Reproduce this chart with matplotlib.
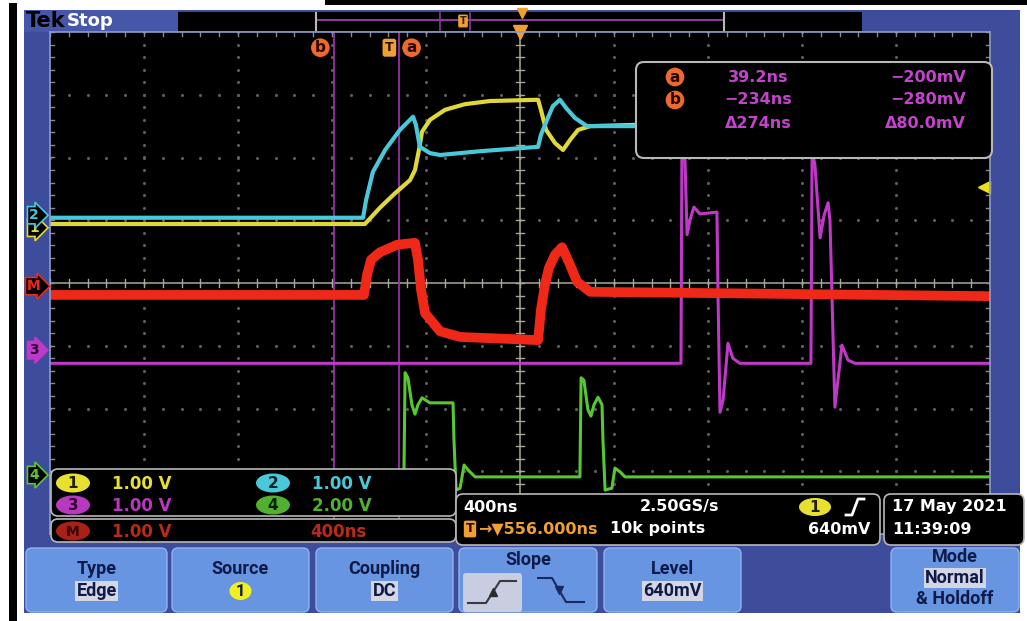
import numpy as np
import matplotlib
matplotlib.use("Agg")
import matplotlib.pyplot as plt
from matplotlib.patches import Rectangle, FancyBboxPatch, Ellipse

# timebase: 400 ns/div, screen centre sits 556 ns after the trigger
ns_per_div = 400
t_center = 556
t_left = t_center - 5 * ns_per_div
t_right = t_center + 5 * ns_per_div

# traces: time in ns (0 = trigger), amplitude in screen divisions
ch1_t = [-1444, -104, -40, 24, 88, 109, 126, 139, 173, 237, 322, 428, 633, 645, 667, 705, 739, 769, 803, 854, 1050, 2556]
ch1_y = [0.94, 0.94, 1.20, 1.43, 1.64, 1.80, 2.12, 2.41, 2.60, 2.76, 2.85, 2.90, 2.92, 2.76, 2.44, 2.23, 2.12, 2.28, 2.44, 2.50, 2.52, 2.52]

ch2_t = [-1444, -112, -99, -70, -18, 45, 101, 113, 130, 173, 216, 386, 633, 645, 671, 696, 726, 752, 790, 841, 896, 2556]
ch2_y = [1.04, 1.04, 1.32, 1.77, 2.12, 2.44, 2.65, 2.52, 2.17, 2.07, 2.04, 2.10, 2.17, 2.36, 2.60, 2.82, 2.92, 2.79, 2.63, 2.50, 2.50, 2.50]

math_t = [-1444, -108, -95, -78, -40, 33, 109, 122, 135, 152, 216, 301, 633, 645, 662, 679, 705, 735, 769, 799, 854, 2556]
math_y = [-0.19, -0.19, 0.13, 0.37, 0.49, 0.61, 0.64, 0.37, -0.11, -0.48, -0.77, -0.86, -0.91, -0.43, -0.03, 0.24, 0.45, 0.57, 0.29, 0.02, -0.14, -0.21]

ch3_t = [-1444, 1241, 1245, 1258, 1267, 1279, 1296, 1322, 1394, 1399, 1407, 1420, 1441, 1462, 1492,
         1794, 1799, 1811, 1833, 1850, 1867, 1875, 1884, 1896, 1909, 1926, 1952, 1982, 2556]
ch3_y = [-1.28, -1.28, 2.12, 1.96, 0.77, 1.00, 1.21, 1.10, 1.13, -0.27, -2.06, -1.87, -0.96, -1.20, -1.28,
         -1.28, 2.12, 1.88, 0.72, 1.08, 1.28, 1.00, -0.27, -1.98, -1.55, -0.99, -1.23, -1.28, -1.28]

ch4_t = [-1444, 62, 67, 79, 96, 109, 122, 139, 173, 271, 275, 284, 301, 318, 335, 365,
         811, 816, 828, 845, 858, 871, 888, 905, 909, 918, 947, 960, 982, 1003, 2556]
ch4_y = [-3.09, -3.09, -1.43, -1.51, -1.94, -2.09, -1.94, -1.83, -1.91, -1.91, -2.50, -3.30, -3.27, -2.90, -2.98, -3.09,
         -3.09, -1.51, -1.55, -2.02, -2.12, -1.94, -1.82, -1.94, -2.50, -3.30, -3.27, -2.95, -3.01, -3.09, -3.09]

# cursors, trigger level and channel ground markers
cursor_a = 39.2
cursor_b = -234
trig_level = 1.53
markers = [("1", 0.88, "#E0D838"), ("2", 1.08, "#48C8D8"), ("M", -0.05, "#F02818"),
           ("3", -1.07, "#C038C8"), ("4", -3.06, "#58C830")]

# readout texts
meas_rows = [("a", "39.2ns", "\u2212200mV"), ("b", "\u2212234ns", "\u2212280mV"), ("", "\u0394274ns", "\u039480.0mV")]
ch_scales = ["1.00 V", "1.00 V", "1.00 V", "2.00 V"]
math_scale, math_time = "1.00 V", "400ns"
horiz = ["400ns", "2.50GS/s", "\u2192\u25bc556.000ns", "10k points", "640mV"]
date_txt = ["17 May 2021", "11:39:09"]
buttons = [("Type", "Edge"), ("Source", "1"), ("Coupling", "DC"), ("Slope", ""), ("Level", "640mV"), ("Mode", "Normal")]

W, H = 1027, 621
FRAME = "#3E4C9C"
BTN = "#6795E2"
MEAS = "#C443CC"
ORANGE = "#EC6A2C"
BOLD = dict(family="DejaVu Sans", fontweight="bold")
NARROW = dict(family="Roboto", fontweight="bold")

fig = plt.figure(figsize=(W / 100, H / 100), dpi=100, facecolor="white")


def px_axes(z):
    a = fig.add_axes([0, 0, 1, 1], zorder=z)
    a.set_xlim(0, W)
    a.set_ylim(H, 0)
    a.axis("off")
    return a


def rect(a, x0, y0, x1, y1, fc):
    a.add_patch(Rectangle((x0, y0), x1 - x0, y1 - y0, fc=fc, ec="none"))


def rbox(a, x0, y0, x1, y1, fc, ec, r=6, lw=1.2):
    a.add_patch(FancyBboxPatch((x0, y0), x1 - x0, y1 - y0,
                               boxstyle=f"round,pad=0,rounding_size={r}", fc=fc, ec=ec, lw=lw))


# ---- frame -----------------------------------------------------------
bg = px_axes(0)
rect(bg, 9, 3, 17, H, "black")
rect(bg, 325, 0, W, 5, "black")
rect(bg, 24, 10, 1020, 613, FRAME)
rect(bg, 24, 10, 178, 32, "#4656A8")
rect(bg, 178, 12, 862, 31, "black")
bg.plot([318, 722], [20, 20], color="#8A3A9A", lw=1.5)
for xx in (440, 470):
    bg.plot([xx, xx], [13, 30], color="#8A3A9A", lw=1.2)
for xx in (316, 724):
    bg.plot([xx, xx], [13, 30], color="#B8B8B8", lw=1.5)
bg.text(463, 21, "T", ha="center", va="center", fontsize=7, color="#3A1A00",
        bbox=dict(boxstyle="round,pad=0.15", fc="#F0A030", ec="none"), **BOLD)
bg.plot(522, 13, marker="v", ms=7, color="#F0A030")
bg.text(26, 21, "Tek", ha="left", va="center", fontsize=15, color="black", **BOLD)
bg.text(67, 21, "Stop", ha="left", va="center", fontsize=13, color="white", **BOLD)

# ---- graticule -------------------------------------------------------
ax = fig.add_axes([50 / W, (H - 534) / H, 940 / W, 502 / H], zorder=1)
ax.set_facecolor("black")
ax.set_xlim(t_left, t_right)
ax.set_ylim(-4, 4)
ax.set_xticks([])
ax.set_yticks([])
for s in ax.spines.values():
    s.set_color("#8C9CCC")
    s.set_linewidth(1.2)

minor_t = np.arange(t_left, t_right + 1, ns_per_div / 5)
minor_y = np.arange(-4, 4.01, 0.2)
for k in range(1, 10):
    if k != 5:
        xv = t_left + k * ns_per_div
        ax.plot([xv] * len(minor_y), minor_y, ls="none", marker="o", ms=1.2, color="#5E5E5E")
for yv in (-3, -2, -1, 1, 2, 3):
    ax.plot(minor_t, [yv] * len(minor_t), ls="none", marker="o", ms=1.2, color="#5E5E5E")

ax.axvline(t_center, color="#A8A898", lw=1.1)
ax.axhline(0, color="#A8A898", lw=1.1)
tick_t = 17
tick_y = 0.065
for yv in minor_y:
    ax.plot([t_center - tick_t, t_center + tick_t], [yv, yv], color="#A8A898", lw=1)
    ax.plot([t_left, t_left + tick_t], [yv, yv], color="#8A8A8A", lw=1)
    ax.plot([t_right - tick_t, t_right], [yv, yv], color="#8A8A8A", lw=1)
for tv in minor_t:
    ax.plot([tv, tv], [-tick_y, tick_y], color="#A8A898", lw=1)
    ax.plot([tv, tv], [4 - tick_y, 4], color="#8A8A8A", lw=1)
    ax.plot([tv, tv], [-4, -4 + tick_y], color="#8A8A8A", lw=1)

# cursors
ax.axvline(cursor_b, color="#9830A8", lw=1.3)
ax.axvline(cursor_a, color="#9830A8", lw=1.3)

# waveforms
ax.plot(ch4_t, ch4_y, color="#58C830", lw=2.2)
ax.plot(ch3_t, ch3_y, color="#C038C8", lw=2.2)
ax.plot(math_t, math_y, color="#F02818", lw=7, solid_joinstyle="round")
ax.plot(ch1_t, ch1_y, color="#E0D838", lw=3)
ax.plot(ch2_t, ch2_y, color="#48C8D8", lw=3)

# cursor / trigger labels along the top
lab_y = 3.75
for txt, tv, dx in (("b", cursor_b, -14), ("a", cursor_a, 13)):
    ax.annotate(txt, xy=(tv, lab_y), xytext=(dx * 0.72, 0), textcoords="offset points",
                ha="center", va="center", fontsize=11, color="#2A0800",
                bbox=dict(boxstyle="circle,pad=0.12", fc=ORANGE, ec="none"), **BOLD)
ax.annotate("T", xy=(0, lab_y), ha="center", va="center", fontsize=9, color="#2A0800",
            bbox=dict(boxstyle="round,pad=0.2", fc="#F0A030", ec="none"), **BOLD)
ax.plot(t_center, 4, marker="v", ms=10, color="#F0A030", clip_on=False)
ax.plot(t_right - 25, trig_level, marker="<", ms=8, color="#E8E020", clip_on=False)
ax.plot([t_right - 30, t_right], [trig_level, trig_level], color="#E8E020", lw=2)

# channel ground markers on the left edge
for name, yv, col in markers:
    dark = col if name == "3" else "black"
    ax.annotate(name, xy=(0, yv), xycoords=("axes fraction", "data"),
                xytext=(-16 * 0.72, 0), textcoords="offset points", ha="center", va="center",
                fontsize=10, color="#2A0830" if name == "3" else col, annotation_clip=False,
                bbox=dict(boxstyle="rarrow,pad=0.12", fc=dark, ec=col, lw=1.2), **BOLD)

# ---- overlay readouts ------------------------------------------------
ov = px_axes(2)

# cursor measurement box
rbox(ov, 636, 62, 992, 158, "black", "#B8B8B8", r=8, lw=1.5)
for i, (lab, tval, vval) in enumerate(meas_rows):
    yy = 77 + i * 23
    if lab:
        ov.text(675, yy, lab, ha="center", va="center", fontsize=11, color="#2A0800",
                bbox=dict(boxstyle="circle,pad=0.12", fc=ORANGE, ec="none"), **BOLD)
    ov.text(758, yy, tval, ha="center", va="center", fontsize=11.5, color=MEAS, **BOLD)
    ov.text(966, yy, vval, ha="right", va="center", fontsize=11.5, color=MEAS, **BOLD)

# channel scale box
rbox(ov, 51, 469, 456, 516, "black", "#B8B8B8", r=7)
rbox(ov, 51, 519, 456, 542, "black", "#B8B8B8", r=7)
ch_cols = ["#E8E030", "#48C8D8", "#B838C0", "#50B030"]
ch_dark = ["#202000", "#002028", "#300030", "#002000"]
for i, sc in enumerate(ch_scales):
    cx = 73 if i % 2 == 0 else 273
    yy = 483 if i < 2 else 505
    ov.add_patch(Ellipse((cx, yy), 34, 19, fc=ch_cols[i], ec="none"))
    ov.text(cx, yy + 1, str(i + 1), ha="center", va="center", fontsize=11, color=ch_dark[i], **BOLD)
    ov.text(cx + 39, yy + 1, sc, ha="left", va="center", fontsize=12, color=ch_cols[i], **BOLD)
ov.add_patch(Ellipse((73, 531), 34, 19, fc="#A82018", ec="none"))
ov.text(73, 532, "M", ha="center", va="center", fontsize=10, color="#3A0000", **BOLD)
ov.text(112, 532, math_scale, ha="left", va="center", fontsize=12, color="#B82A1A", **BOLD)
ov.text(310, 532, math_time, ha="left", va="center", fontsize=12, color="#B82A1A", **BOLD)

# horizontal / trigger box
rbox(ov, 456, 494, 880, 545, "black", "#B8B8B8", r=7)
ov.text(463, 507, horiz[0], ha="left", va="center", fontsize=11.5, color="white", **BOLD)
ov.text(640, 507, horiz[1], ha="left", va="center", fontsize=11.5, color="white", **BOLD)
ov.add_patch(Ellipse((815, 507), 32, 18, fc="#E8E030", ec="none"))
ov.text(815, 508, "1", ha="center", va="center", fontsize=11, color="#202000", **BOLD)
ov.plot([846, 852, 858, 864], [515, 515, 499, 499], color="white", lw=2)
ov.text(470, 529, "T", ha="center", va="center", fontsize=9, color="#2A0800",
        bbox=dict(boxstyle="round,pad=0.15", fc="#F0A030", ec="none"), **BOLD)
ov.text(478, 529, horiz[2], ha="left", va="center", fontsize=11.5, color="#F0A030", **BOLD)
ov.text(610, 529, horiz[3], ha="left", va="center", fontsize=11.5, color="white", **BOLD)
ov.text(870, 529, horiz[4], ha="right", va="center", fontsize=11.5, color="white", **BOLD)

# date box
rbox(ov, 884, 494, 1024, 545, "black", "#B8B8B8", r=7)
ov.text(892, 507, date_txt[0], ha="left", va="center", fontsize=11.5, color="white", **BOLD)
ov.text(892, 529, date_txt[1], ha="left", va="center", fontsize=11.5, color="white", **BOLD)

# ---- soft buttons ----------------------------------------------------
btn_x = [(26, 167), (172, 309), (316, 453), (459, 597), (604, 741), (891, 1019)]
for (x0, x1), (top, val) in zip(btn_x, buttons):
    rbox(ov, x0, 548, x1, 612, BTN, "#8FB2F0", r=6, lw=1)
    cx = (x0 + x1) / 2
    if top == "Slope":
        ov.text(cx, 560, top, ha="center", va="center", fontsize=13, color="#101A48", **NARROW)
        rbox(ov, 463, 573, 522, 612, "#C9CDE2", "none", r=3, lw=0)
        ov.plot([468, 486, 500, 516], [603, 603, 581, 581], color="#3A3A3A", lw=1.5)
        ov.plot(493, 592, marker="^", ms=6, color="#2A2A2A")
        ov.plot([538, 552, 566, 584], [578, 578, 602, 602], color="#1A2A60", lw=1.5)
        ov.plot(559, 590, marker="v", ms=6, color="#1A2A60")
    elif top == "Mode":
        ov.text(cx, 557, top, ha="center", va="center", fontsize=13, color="#101A48", **NARROW)
        ov.text(cx, 578, val, ha="center", va="center", fontsize=13, color="#101A48",
                bbox=dict(boxstyle="square,pad=0.08", fc="#D4D6E4", ec="none"), **NARROW)
        ov.text(cx, 599, "& Holdoff", ha="center", va="center", fontsize=13, color="#101A48", **NARROW)
    elif top == "Source":
        ov.text(cx, 569, top, ha="center", va="center", fontsize=13, color="#101A48", **NARROW)
        ov.add_patch(Ellipse((cx, 591), 22, 18, fc="#F0F020", ec="none"))
        ov.text(cx, 592, val, ha="center", va="center", fontsize=12, color="#101A48", **NARROW)
    else:
        ov.text(cx, 569, top, ha="center", va="center", fontsize=13, color="#101A48", **NARROW)
        ov.text(cx, 591, val, ha="center", va="center", fontsize=13, color="#101A48",
                bbox=dict(boxstyle="square,pad=0.08", fc="#D4D6E4", ec="none"), **NARROW)

fig.savefig("out.png", dpi=100, facecolor="white")
